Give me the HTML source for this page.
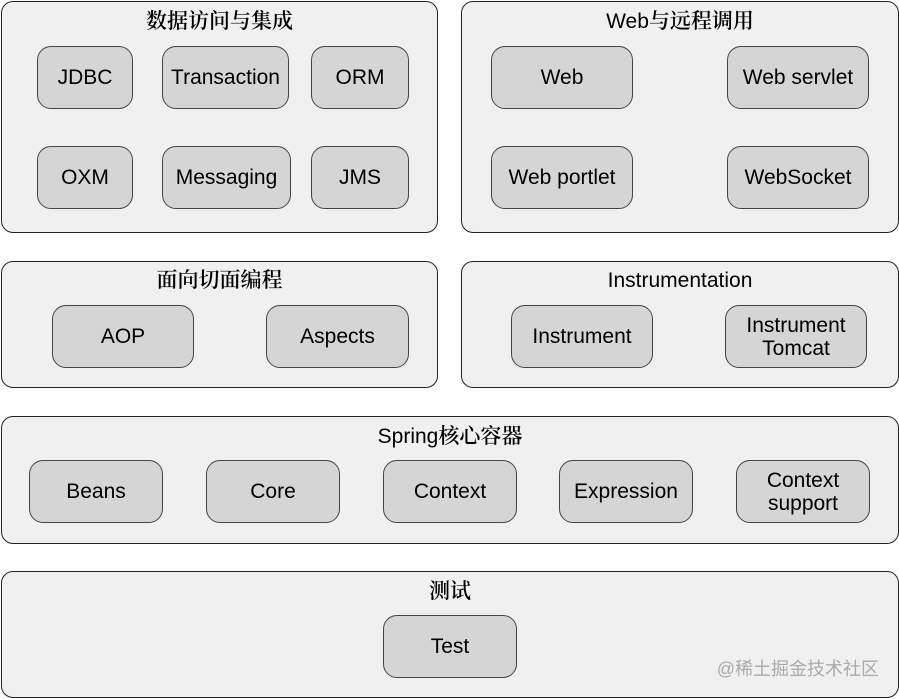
<!DOCTYPE html>
<html><head><meta charset="utf-8"><style>
body{margin:0;width:899px;height:699px;background:#fff;position:relative;overflow:hidden;font-family:"Liberation Sans","Noto Sans CJK SC",sans-serif;color:#000}
.p{position:absolute;box-sizing:border-box;background:#f0f0f0;border:1.5px solid #222;border-radius:12px}
.t{position:absolute;left:0;right:0;text-align:center;font-size:21px;line-height:24px}
.z{font-family:"Liberation Sans","Noto Serif CJK SC",serif;font-weight:600}
.b{position:absolute;box-sizing:border-box;background:#d5d5d5;border:1px solid #444;border-radius:14px;display:flex;align-items:center;justify-content:center;text-align:center;font-size:21px;line-height:23px}
.w{position:absolute;right:20px;top:655px;font-size:18px;color:#aaa}
</style></head><body>
<div class="p" style="left:1px;top:1px;width:437px;height:232px"><div class="t z" style="top:8px">数据访问与集成</div></div>
<div class="p" style="left:461px;top:1px;width:438px;height:232px"><div class="t" style="top:8px">Web<span class="z">与远程调用</span></div></div>
<div class="p" style="left:1px;top:261px;width:437px;height:127px"><div class="t z" style="top:7px">面向切面编程</div></div>
<div class="p" style="left:461px;top:261px;width:438px;height:127px"><div class="t" style="top:7px">Instrumentation</div></div>
<div class="p" style="left:1px;top:416px;width:898px;height:128px"><div class="t" style="top:8px">Spring<span class="z">核心容器</span></div></div>
<div class="p" style="left:1px;top:571px;width:898px;height:127px"><div class="t z" style="top:8px">测试</div></div>

<div class="b" style="left:37px;top:46px;width:96px;height:63px">JDBC</div>
<div class="b" style="left:162px;top:46px;width:127px;height:63px">Transaction</div>
<div class="b" style="left:311px;top:46px;width:98px;height:63px">ORM</div>
<div class="b" style="left:37px;top:146px;width:96px;height:63px">OXM</div>
<div class="b" style="left:162px;top:146px;width:129px;height:63px">Messaging</div>
<div class="b" style="left:311px;top:146px;width:98px;height:63px">JMS</div>

<div class="b" style="left:491px;top:46px;width:142px;height:63px">Web</div>
<div class="b" style="left:727px;top:46px;width:142px;height:63px">Web servlet</div>
<div class="b" style="left:491px;top:146px;width:142px;height:63px">Web portlet</div>
<div class="b" style="left:727px;top:146px;width:142px;height:63px">WebSocket</div>

<div class="b" style="left:52px;top:305px;width:142px;height:63px">AOP</div>
<div class="b" style="left:266px;top:305px;width:143px;height:63px">Aspects</div>
<div class="b" style="left:511px;top:305px;width:142px;height:63px">Instrument</div>
<div class="b" style="left:725px;top:305px;width:142px;height:63px">Instrument<br>Tomcat</div>

<div class="b" style="left:29px;top:460px;width:134px;height:63px">Beans</div>
<div class="b" style="left:206px;top:460px;width:134px;height:63px">Core</div>
<div class="b" style="left:383px;top:460px;width:134px;height:63px">Context</div>
<div class="b" style="left:559px;top:460px;width:134px;height:63px">Expression</div>
<div class="b" style="left:736px;top:460px;width:134px;height:63px">Context<br>support</div>

<div class="b" style="left:383px;top:615px;width:134px;height:63px">Test</div>
<div class="w">@稀土掘金技术社区</div>
</body></html>
